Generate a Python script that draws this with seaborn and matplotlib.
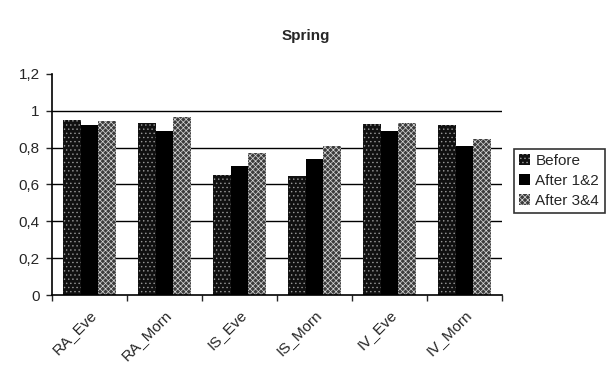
import matplotlib
matplotlib.use("Agg")
import matplotlib.pyplot as plt
import seaborn as sns
import pandas as pd
import numpy as np
from matplotlib.patches import Patch

categories = ["RA_Eve", "RA_Morn", "IS_Eve", "IS_Morn", "IV_Eve", "IV_Morn"]
series = ["Before", "After 1&2", "After 3&4"]
before = [0.95, 0.935, 0.65, 0.645, 0.93, 0.925]
after12 = [0.92, 0.89, 0.70, 0.74, 0.89, 0.81]
after34 = [0.945, 0.965, 0.77, 0.81, 0.935, 0.845]
ytick_vals = [0, 0.2, 0.4, 0.6, 0.8, 1.0, 1.2]
ytick_labels = ["0", "0,2", "0,4", "0,6", "0,8", "1", "1,2"]

rows = []
for s, vals in zip(series, [before, after12, after34]):
    for c, v in zip(categories, vals):
        rows.append({"cat": c, "series": s, "value": v})
df = pd.DataFrame(rows)

sns.set_style("white")
plt.rcParams["font.family"] = ["Liberation Sans", "DejaVu Sans"]
plt.rcParams["hatch.linewidth"] = 0.5

fig = plt.figure(figsize=(6.12, 3.77), dpi=100)
ax = fig.add_axes([0.085, 0.2175, 0.735, 0.5865])

face = {"Before": "#101010", "After 1&2": "#000000", "After 3&4": "#3c3c3c"}
hatch = {"Before": "....", "After 1&2": "", "After 3&4": "xxxxxx"}
hcol = {"Before": "#9a9a9a", "After 1&2": "black", "After 3&4": "#d8d8d8"}

sns.barplot(data=df, x="cat", y="value", hue="series", order=categories,
            hue_order=series, palette=face, width=0.7, gap=0, ax=ax,
            saturation=1, legend=False)

for cont, s in zip(ax.containers, series):
    for b in cont:
        b.set_facecolor(face[s])
        b.set_edgecolor(hcol[s])
        b.set_linewidth(0)
        b.set_hatch(hatch[s])

ax.set_ylim(0, 1.2)
ax.set_xlim(-0.5, 5.5)
ax.set_yticks(ytick_vals)
ax.set_yticklabels(ytick_labels, fontsize=11)
for y in [0.2, 0.4, 0.6, 0.8, 1.0]:
    ax.axhline(y, color="black", lw=1.0, zorder=0)
ax.set_xticks(range(len(categories)))
ax.set_xticklabels(categories, rotation=45, ha="right", rotation_mode="anchor", fontsize=11)
ax.set_xticks(np.arange(-0.5, 6.0, 1.0), minor=True)
ax.tick_params(axis="x", which="major", length=0, pad=9)
ax.tick_params(axis="x", which="minor", length=4, direction="out", width=1, bottom=True)
ax.tick_params(axis="y", length=4, direction="out", width=1, left=True, pad=5)
ax.set_xlabel("")
ax.set_ylabel("")
for sp in ["top", "right"]:
    ax.spines[sp].set_visible(False)
for sp in ["left", "bottom"]:
    ax.spines[sp].set_color("black")
    ax.spines[sp].set_linewidth(1.2)

handles = [Patch(facecolor=face[s], edgecolor=hcol[s], hatch=hatch[s], linewidth=0)
           for s in series]
leg = fig.legend(handles, series, loc="center left", bbox_to_anchor=(0.84, 0.52),
                 frameon=True, fancybox=False, edgecolor="black", fontsize=11,
                 handlelength=0.7, handleheight=0.7, handletextpad=0.35,
                 borderpad=0.35, labelspacing=0.4, borderaxespad=0)
leg.get_frame().set_linewidth(1.2)

fig.text(0.5, 0.905, "Spring", ha="center", va="center", fontsize=11, fontweight="bold")

fig.savefig("out.png", dpi=100)
